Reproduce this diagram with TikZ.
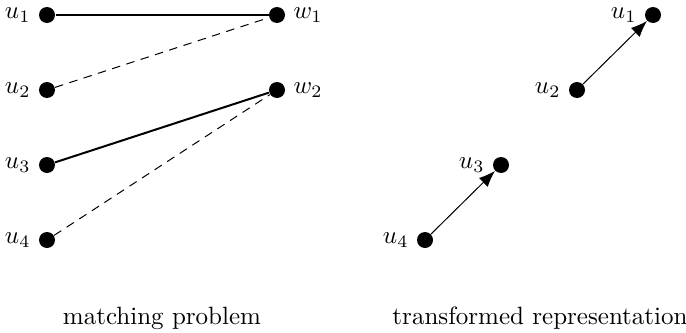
\documentclass[tikz,border=0pt]{standalone}
\usetikzlibrary{arrows.meta}
\begin{document}
\begin{tikzpicture}[x=0.4pt,y=-0.4pt,
  dot/.style={circle,fill=black,inner sep=0pt,minimum size=6.4pt},
  lab/.style={font=\normalsize,inner sep=3pt},
  match/.style={line width=0.8pt},
  nonmatch/.style={line width=0.4pt,dash pattern=on 3.4pt off 2.6pt},
  arc/.style={line width=0.4pt,-{Latex[length=6.5pt,width=5pt]}}]
\useasboundingbox (0,0) rectangle (686,333);
% left
\node[dot,label={[lab]left:$u_1$}] (lu1) at (47,15) {};
\node[dot,label={[lab]left:$u_2$}] (lu2) at (47,90) {};
\node[dot,label={[lab]left:$u_3$}] (lu3) at (47,165) {};
\node[dot,label={[lab]left:$u_4$}] (lu4) at (47,240) {};
\node[dot,label={[lab]right:$w_1$}] (w1) at (277,15) {};
\node[dot,label={[lab]right:$w_2$}] (w2) at (277,90) {};
\draw[match] (lu1) -- (w1);
\draw[nonmatch] (lu2) -- (w1);
\draw[match] (lu3) -- (w2);
\draw[nonmatch] (lu4) -- (w2);
% right
\node[dot,label={[lab]left:$u_1$}] (ru1) at (653,15) {};
\node[dot,label={[lab]left:$u_2$}] (ru2) at (577,90) {};
\node[dot,label={[lab]left:$u_3$}] (ru3) at (501,165) {};
\node[dot,label={[lab]left:$u_4$}] (ru4) at (425,240) {};
\draw[arc] (ru2) -- (ru1);
\draw[arc] (ru4) -- (ru3);
% captions
\node (c1) at (162,318) {matching problem};
\node (c2) at (540,318) {transformed representation};
\end{tikzpicture}
\end{document}
